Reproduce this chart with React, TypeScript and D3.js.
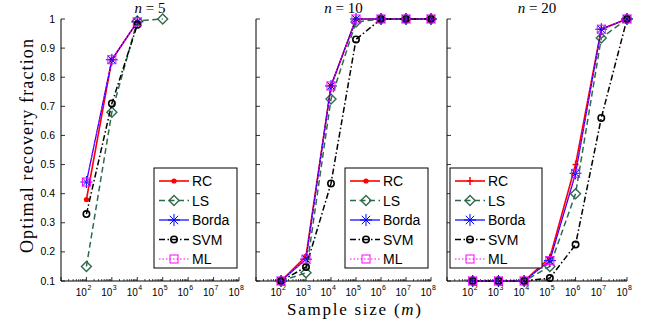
import React from 'react';
import * as d3 from 'd3';

// sample sizes (x axis), 10^2 .. 10^8
const sampleSizes = [1e2, 1e3, 1e4, 1e5, 1e6, 1e7, 1e8];
const panelTitles = ['5', '10', '20'];
const methods = ['RC', 'LS', 'Borda', 'SVM', 'ML'];
const yTicks = [0.1, 0.2, 0.3, 0.4, 0.5, 0.6, 0.7, 0.8, 0.9, 1];
const xTickPowers = [2, 3, 4, 5, 6, 7, 8];

// n = 5
const rc5 = [0.38, 0.86, 0.99, null, null, null, null];
const ls5 = [0.15, 0.68, 0.993, 1.0, null, null, null];
const borda5 = [0.44, 0.86, 0.99, null, null, null, null];
const svm5 = [0.33, 0.71, 0.98, null, null, null, null];
const ml5 = [0.44, 0.86, 0.99, null, null, null, null];

// n = 10
const rc10 = [0.1, 0.185, 0.77, 1, 1, 1, 1];
const ls10 = [0.1, 0.128, 0.725, 0.99, 1, 1, 1];
const borda10 = [0.1, 0.175, 0.77, 1, 1, 1, 1];
const svm10 = [0.1, 0.148, 0.435, 0.93, 1, 1, 1];
const ml10 = [0.1, 0.175, 0.77, 1, 1, 1, 1];

// n = 20
const rc20 = [0.1, 0.1, 0.1, 0.18, 0.5, 0.965, 1];
const ls20 = [0.1, 0.1, 0.1, 0.15, 0.4, 0.935, 1];
const borda20 = [0.1, 0.1, 0.1, 0.17, 0.47, 0.965, 1];
const svm20 = [0.1, 0.1, 0.1, 0.11, 0.225, 0.66, 1];
const ml20 = [0.1, 0.1, 0.1, 0.17, 0.47, 0.965, 1];

const panelData = [
  [rc5, ls5, borda5, svm5, ml5],
  [rc10, ls10, borda10, svm10, ml10],
  [rc20, ls20, borda20, svm20, ml20],
];

const styles: any = {
  RC: { color: '#ff0000', dash: null, width: 1.6 },
  LS: { color: '#2e6b4a', dash: '6,3.5', width: 1.5 },
  Borda: { color: '#0000ff', dash: null, width: 1.2 },
  SVM: { color: '#000000', dash: '6,2.5,1.5,2.5', width: 1.5 },
  ML: { color: '#ff00ff', dash: '1.5,2', width: 1.2 },
};

const panels = [
  { left: 61, right: 239, legend: { x: 154, y: 168, w: 83, mx: 20 } },
  { left: 256, right: 431, legend: { x: 345, y: 168, w: 83, mx: 21 } },
  { left: 447, right: 627, legend: { x: 450, y: 168, w: 92, mx: 20 } },
];

const top = 19;
const bottom = 281;
const sans = 'Liberation Sans, Arial, sans-serif';
const serif = 'Liberation Serif, DejaVu Serif, serif';

function Marker({ m, x, y, plus }: any) {
  const c = styles[m].color;
  if (m === 'RC') {
    if (plus) {
      return (
        <g stroke={c} strokeWidth={1.5}>
          <line x1={x - 3} x2={x + 3} y1={y} y2={y} />
          <line x1={x} x2={x} y1={y - 4} y2={y + 4} />
        </g>
      );
    }
    return <circle cx={x} cy={y} r={2.6} fill={c} />;
  }
  if (m === 'LS') {
    const s = 5;
    return (
      <path
        d={`M${x},${y - s}L${x + s},${y}L${x},${y + s}L${x - s},${y}Z`}
        fill="none"
        stroke={c}
        strokeWidth={1.4}
      />
    );
  }
  if (m === 'Borda') {
    const s = 6;
    const d = s * 0.7;
    return (
      <g stroke={c} strokeWidth={1}>
        <line x1={x - s} x2={x + s} y1={y} y2={y} />
        <line x1={x} x2={x} y1={y - s} y2={y + s} />
        <line x1={x - d} x2={x + d} y1={y - d} y2={y + d} />
        <line x1={x - d} x2={x + d} y1={y + d} y2={y - d} />
      </g>
    );
  }
  if (m === 'SVM') {
    return <circle cx={x} cy={y} r={3.2} fill="none" stroke={c} strokeWidth={1.6} />;
  }
  return (
    <rect x={x - 4} y={y - 4} width={8} height={8} fill="none" stroke={c} strokeWidth={1} />
  );
}

function Panel({ idx }: any) {
  const p = panels[idx];
  const x = d3.scaleLog().domain([10, 1e8]).range([p.left, p.right]);
  const y = d3.scaleLinear().domain([0.1, 1]).range([bottom, top]);
  const line = d3
    .line<any>()
    .defined((d) => d.v != null)
    .x((d) => x(d.s))
    .y((d) => y(d.v));

  const minor: number[] = [];
  for (let e = 1; e < 8; e++) {
    for (let k = 2; k <= 9; k++) minor.push(k * Math.pow(10, e));
  }
  const majors = [1, 2, 3, 4, 5, 6, 7, 8].map((e) => Math.pow(10, e));
  const lg = p.legend;
  const rowH = 19.5;

  return (
    <g>
      {/* axes */}
      <line x1={p.left} x2={p.left} y1={top} y2={bottom} stroke="#000" strokeWidth={1} />
      <line x1={p.left} x2={p.right} y1={bottom} y2={bottom} stroke="#000" strokeWidth={1} />
      {yTicks.map((t) => (
        <line key={t} x1={p.left} x2={p.left + 4} y1={y(t)} y2={y(t)} stroke="#000" strokeWidth={0.8} />
      ))}
      {minor.map((t) => (
        <line key={'m' + t} x1={x(t)} x2={x(t)} y1={bottom} y2={bottom - 2} stroke="#000" strokeWidth={0.7} />
      ))}
      {majors.map((t) => (
        <line key={'M' + t} x1={x(t)} x2={x(t)} y1={bottom} y2={bottom - 4} stroke="#000" strokeWidth={0.8} />
      ))}
      {idx === 0 &&
        yTicks.map((t) => (
          <text
            key={'yl' + t}
            x={p.left - 6}
            y={y(t) + 3.5}
            textAnchor="end"
            fontFamily={sans}
            fontSize={10.5}
          >
            {t === 1 ? '1' : t.toFixed(1)}
          </text>
        ))}
      {xTickPowers.map((e) => (
        <g key={'xl' + e} fontFamily={sans}>
          <text x={x(Math.pow(10, e)) + 0.5} y={296} textAnchor="end" fontSize={10}>
            10
          </text>
          <text x={x(Math.pow(10, e)) + 1} y={290} textAnchor="start" fontSize={7}>
            {e}
          </text>
        </g>
      ))}
      {/* title */}
      <text
        x={(p.left + p.right) / 2}
        y={13}
        textAnchor="middle"
        fontFamily={serif}
        fontSize={15}
      >
        <tspan fontStyle="italic">n</tspan>
        {' = ' + panelTitles[idx]}
      </text>
      {/* series */}
      {methods.map((m, mi) => {
        const vals = panelData[idx][mi];
        const pts = sampleSizes.map((s, i) => ({ s, v: vals[i] }));
        const st = styles[m];
        return (
          <g key={m}>
            <path
              d={line(pts) || ''}
              fill="none"
              stroke={st.color}
              strokeWidth={st.width}
              strokeDasharray={st.dash || undefined}
            />
            {pts
              .filter((d) => d.v != null)
              .map((d, i) => (
                <Marker key={i} m={m} x={x(d.s)} y={y(d.v as number)} plus={idx === 2} />
              ))}
          </g>
        );
      })}
      {/* legend */}
      <rect x={lg.x} y={lg.y} width={lg.w} height={100} fill="#fff" stroke="#000" strokeWidth={1} />
      {methods.map((m, i) => {
        const cy = lg.y + 13 + i * rowH;
        const st = styles[m];
        return (
          <g key={'lg' + m}>
            <line
              x1={lg.x + 5}
              x2={lg.x + 35}
              y1={cy}
              y2={cy}
              stroke={st.color}
              strokeWidth={st.width}
              strokeDasharray={st.dash || undefined}
            />
            <Marker m={m} x={lg.x + lg.mx} y={cy} plus={idx === 2} />
            <text x={lg.x + 38} y={cy + 5} fontFamily={sans} fontSize={14}>
              {m}
            </text>
          </g>
        );
      })}
    </g>
  );
}

export default function App() {
  return (
    <svg
      width={645}
      height={326}
      style={{ position: 'absolute', left: 0, top: 0, background: '#fff' }}
    >
      <rect width={645} height={326} fill="#fff" />
      {[0, 1, 2].map((i) => (
        <Panel key={i} idx={i} />
      ))}
      <text
        transform="translate(33,146) rotate(-90)"
        textAnchor="middle"
        fontFamily={serif}
        fontSize={18}
        textLength={214}
        lengthAdjust="spacing"
      >
        Optimal recovery fraction
      </text>
      <text
        x={354}
        y={315}
        textAnchor="middle"
        fontFamily={serif}
        fontSize={17}
        textLength={134}
        lengthAdjust="spacing"
      >
        Sample size (<tspan fontStyle="italic">m</tspan>)
      </text>
    </svg>
  );
}
